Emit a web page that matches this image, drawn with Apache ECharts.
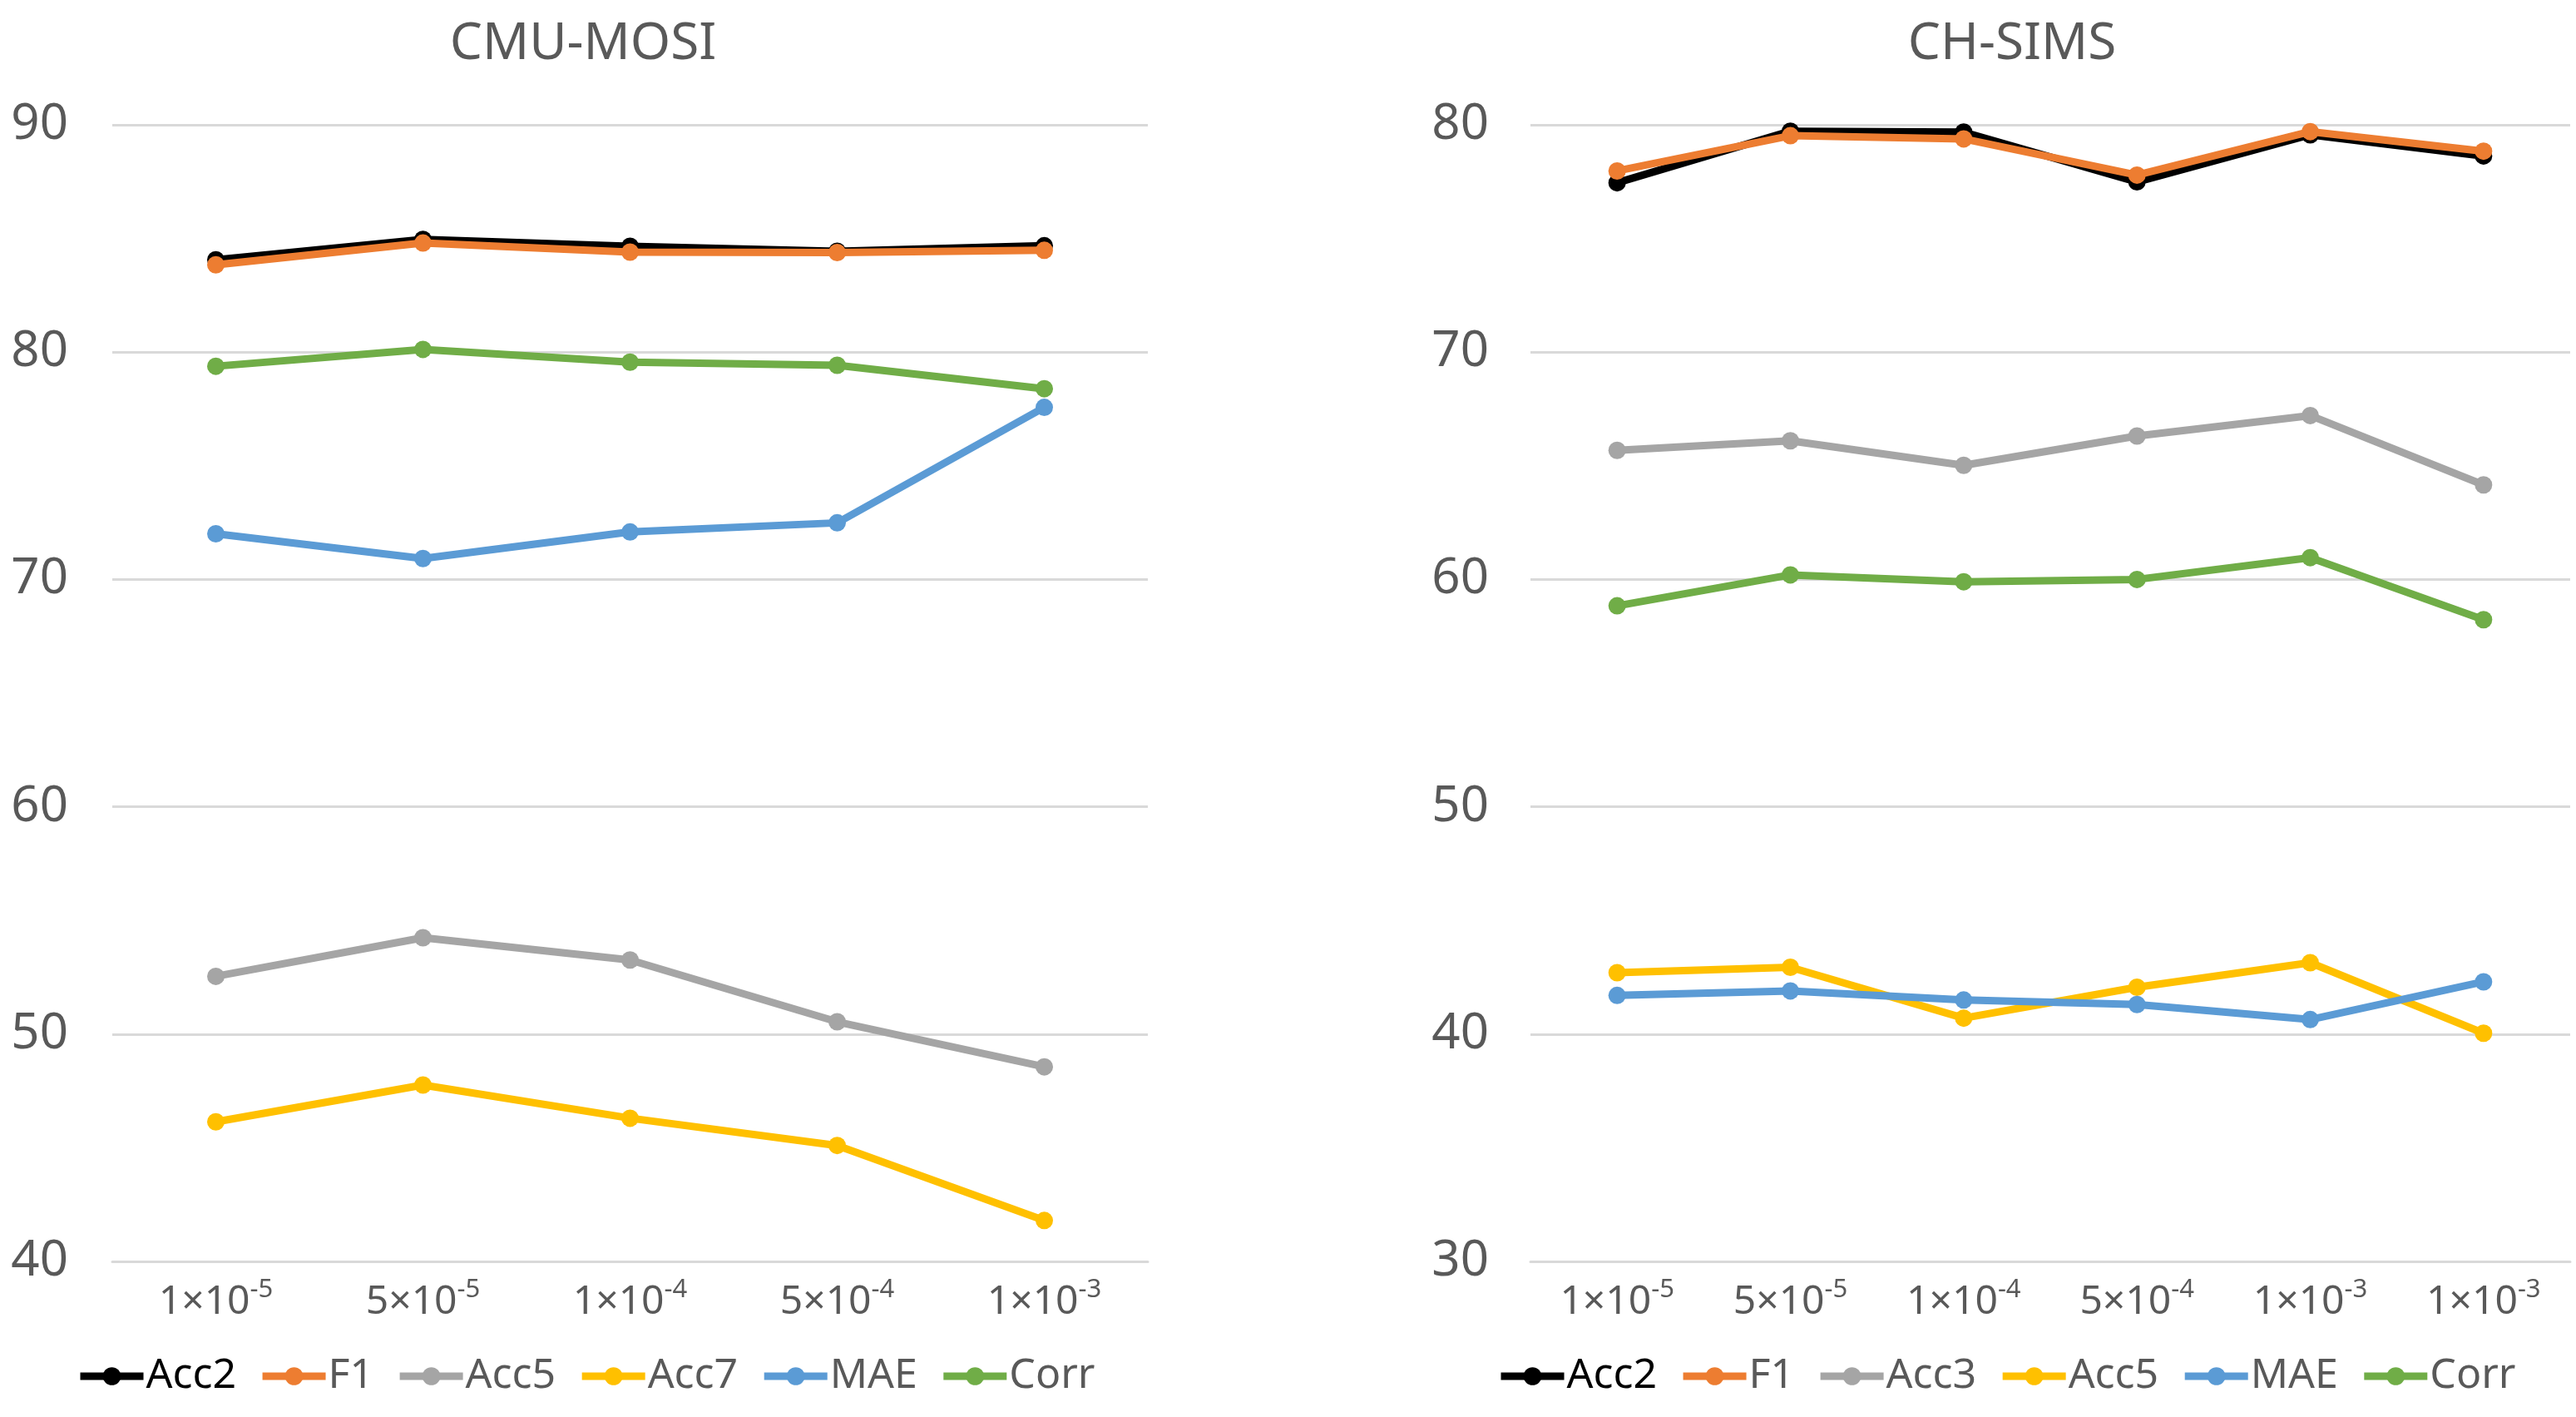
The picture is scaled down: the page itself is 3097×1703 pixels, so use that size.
<!DOCTYPE html>
<html><head><meta charset="utf-8">
<script src="https://cdn.jsdelivr.net/npm/echarts@6/dist/echarts.min.js"></script>
<style>
html,body{margin:0;padding:0;background:#fff;width:3097px;height:1703px;overflow:hidden}
#left{position:absolute;left:0;top:0;width:1550px;height:1703px}
#right{position:absolute;left:1550px;top:0;width:1547px;height:1703px}
</style></head><body>
<div id="left"></div><div id="right"></div>
<script>
// ---- CMU-MOSI ----
const mosiTitle = 'CMU-MOSI';
const mosiCategories = ['1×10⁻⁵', '5×10⁻⁵', '1×10⁻⁴', '5×10⁻⁴', '1×10⁻³'];
const mosiNames = ['Acc2', 'F1', 'Acc5', 'Acc7', 'MAE', 'Corr'];
const mosiAcc2 = [84.06, 84.96, 84.66, 84.44, 84.68];
const mosiF1   = [83.84, 84.80, 84.40, 84.38, 84.48];
const mosiAcc5 = [52.54, 54.24, 53.26, 50.54, 48.56];
const mosiAcc7 = [46.14, 47.76, 46.30, 45.10, 41.80];
const mosiMAE  = [72.01, 70.92, 72.09, 72.49, 77.57];
const mosiCorr = [79.38, 80.12, 79.56, 79.42, 78.39];
const mosiYTicks = [40, 50, 60, 70, 80, 90];

// ---- CH-SIMS ----
const simsTitle = 'CH-SIMS';
const simsCategories = ['1×10⁻⁵', '5×10⁻⁵', '1×10⁻⁴', '5×10⁻⁴', '1×10⁻³', '1×10⁻³ '];
const simsNames = ['Acc2', 'F1', 'Acc3', 'Acc5', 'MAE', 'Corr'];
const simsAcc2 = [77.45, 79.72, 79.68, 77.49, 79.56, 78.63];
const simsF1   = [77.97, 79.52, 79.38, 77.79, 79.70, 78.84];
const simsAcc3 = [65.68, 66.10, 65.02, 66.31, 67.21, 64.16];
const simsAcc5 = [42.70, 42.94, 40.70, 42.06, 43.14, 40.04];
const simsMAE  = [41.70, 41.90, 41.50, 41.30, 40.64, 42.30];
const simsCorr = [58.84, 60.20, 59.90, 60.00, 60.96, 58.23];
const simsYTicks = [30, 40, 50, 60, 70, 80];

const colors = ['#000000', '#ED7D31', '#A5A5A5', '#FFC000', '#5B9BD5', '#70AD47'];
const FONT = '"Noto Sans", "DejaVu Sans", sans-serif';
const GRAY = '#595959';

const supMap = {'⁻':'-','⁰':'0','¹':'1','²':'2','³':'3','⁴':'4','⁵':'5','⁶':'6','⁷':'7','⁸':'8','⁹':'9'};
function fmtLabel(v) {
  let base = '', sup = '';
  for (const ch of v.trim()) { if (supMap[ch]) sup += supMap[ch]; else base += ch; }
  return '{b|' + base + '}{s|' + sup + '}';
}

function buildOption(cfg) {
  return {
    animation: false,
    backgroundColor: '#ffffff',
    title: {
      text: cfg.title, left: cfg.titleX, top: 17, textAlign: 'center',
      textStyle: { fontFamily: FONT, fontSize: 62, fontWeight: 'normal', color: GRAY }
    },
    legend: {
      left: cfg.legendLeft, top: 1624, itemWidth: 76, itemHeight: 27, itemGap: 27,
      lineStyle: { width: 9 },
      textStyle: { fontFamily: FONT, fontSize: 50, color: GRAY, padding: [0, 0, 0, -2] },
      data: cfg.names.map((n, i) => i === 0 ? { name: n, textStyle: { color: '#000000' } } : n)
    },
    grid: { left: cfg.gridLeft, right: cfg.gridRight, top: 150, bottom: 187, containLabel: false },
    xAxis: {
      type: 'category', data: cfg.categories, boundaryGap: true,
      axisLine: { lineStyle: { color: '#D9D9D9', width: 3 } },
      axisTick: { show: false },
      axisLabel: {
        margin: 19, interval: 0, color: GRAY, formatter: fmtLabel,
        rich: {
          b: { fontFamily: FONT, fontSize: 48, color: GRAY, lineHeight: 54, verticalAlign: 'bottom' },
          s: { fontFamily: FONT, fontSize: 31, color: GRAY, lineHeight: 31, verticalAlign: 'top' }
        }
      }
    },
    yAxis: {
      type: 'value', min: cfg.yTicks[0], max: cfg.yTicks[cfg.yTicks.length - 1], interval: 10,
      axisLine: { show: false }, axisTick: { show: false },
      splitLine: { lineStyle: { color: '#D9D9D9', width: 3 } },
      axisLabel: { margin: cfg.yMargin, fontFamily: FONT, fontSize: 60, color: GRAY }
    },
    series: cfg.names.map((n, i) => ({
      name: n, type: 'line', data: cfg.values[i],
      symbol: 'circle', symbolSize: 21, showSymbol: true,
      lineStyle: { color: colors[i], width: 9 },
      itemStyle: { color: colors[i] },
      z: 2 + i
    }))
  };
}

const left = echarts.init(document.getElementById('left'), null, { renderer: 'canvas' });
left.setOption(buildOption({
  title: mosiTitle, titleX: 696, legendLeft: 87, gridLeft: 135, gridRight: 170, yMargin: 53,
  categories: mosiCategories, names: mosiNames, yTicks: mosiYTicks,
  values: [mosiAcc2, mosiF1, mosiAcc5, mosiAcc7, mosiMAE, mosiCorr]
}));

const right = echarts.init(document.getElementById('right'), null, { renderer: 'canvas' });
right.setOption(buildOption({
  title: simsTitle, titleX: 864, legendLeft: 245, gridLeft: 290, gridRight: 7, yMargin: 50,
  categories: simsCategories, names: simsNames, yTicks: simsYTicks,
  values: [simsAcc2, simsF1, simsAcc3, simsAcc5, simsMAE, simsCorr]
}));
</script>
</body></html>
